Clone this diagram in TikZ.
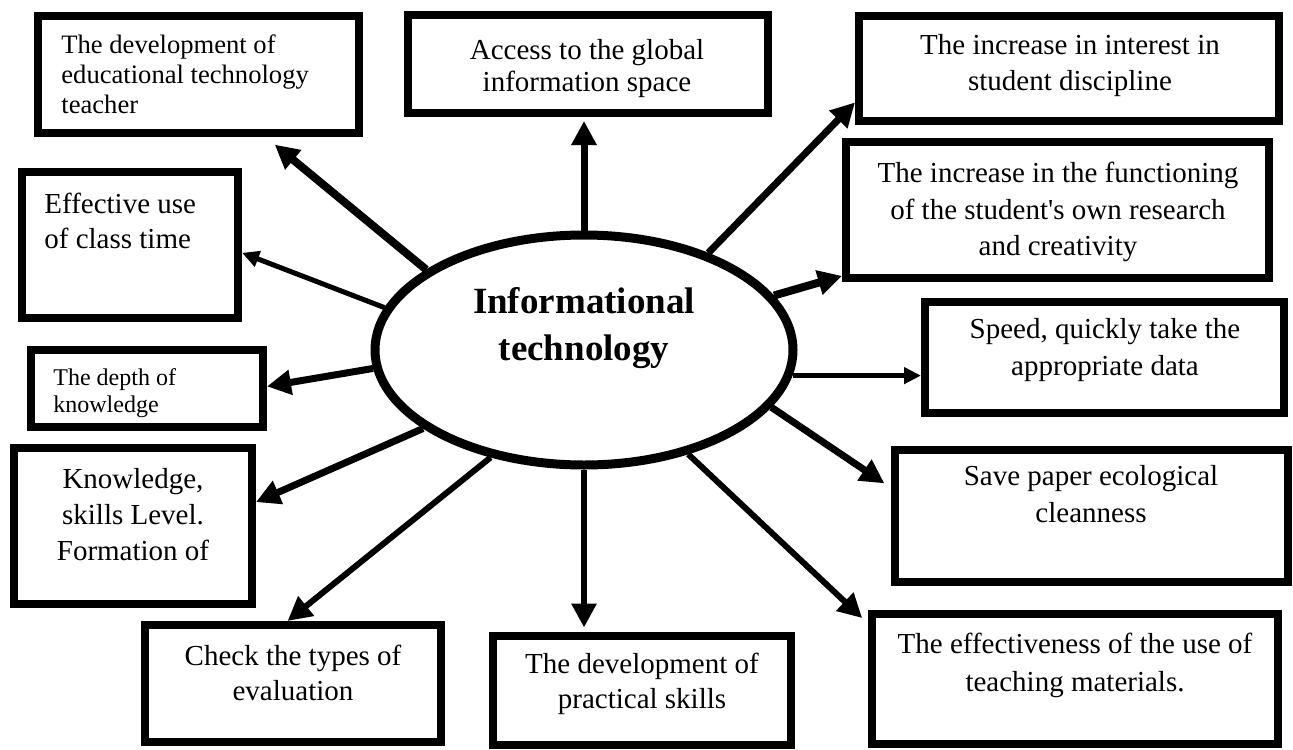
\documentclass[tikz,border=0pt]{standalone}
\usepackage{fontspec}
\setmainfont{Liberation Serif}
\usetikzlibrary{shapes.geometric, arrows.meta}
\tikzset{
  it box/.style={draw, rectangle, line width=4pt, inner sep=0},
  it ellipse/.style={draw, ellipse, line width=4.5pt, minimum width=209pt, minimum height=115pt, inner sep=0},
  box txt/.style={inner sep=0, align=center, anchor=north, font=\fontsize{14.5pt}{#1}\selectfont},
  box txt/.default=18pt,
  it title/.style={inner sep=0, align=center, anchor=north, font=\fontsize{18.5pt}{23.5pt}\selectfont\bfseries},
  it link/.style={line width=#1, -{Triangle[length=12pt, width=12pt]}},
  it link thin/.style={line width=2.5pt, -{Triangle[length=8.5pt, width=8pt]}}
}

\begin{document}
\begin{tikzpicture}[x=0.5pt, y=-0.5pt]
\useasboundingbox (0,0) rectangle (1293,749);

\node[it ellipse] (it) at (584,350) {};
\node[it title] (itt) at (584,287.5) {Informational\\technology};

\node[it box, minimum width=160.5pt, minimum height=58.5pt] (b1) at (198.5,74.5) {};
\node[box txt, anchor=north west, align=left, font=\fontsize{13.3pt}{15pt}\selectfont] (b1t) at (61,34.6) {The development of\\educational technology\\teacher};
\node[it box, minimum width=180pt, minimum height=49pt] (b2) at (588,64) {};
\node[box txt=16pt] (b2t) at (587,39) {Access to the global\\information space};
\node[it box, minimum width=210pt, minimum height=52.5pt] (b3) at (1069,68.5) {};
\node[box txt=17.75pt] (b3t) at (1070,34) {The increase in interest in\\student discipline};
\node[it box, minimum width=211.5pt, minimum height=68pt] (b4) at (1057.5,210) {};
\node[box txt=18.25pt] (b4t) at (1058,162) {The increase in the functioning\\of the student\textquotesingle s own research\\and creativity};
\node[it box, minimum width=108pt, minimum height=73pt] (b5) at (130,245) {};
\node[box txt=17.5pt, anchor=north west, align=left] (b5t) at (44,193) {Effective use\\of class time};
\node[it box, minimum width=179.5pt, minimum height=55.5pt] (b6) at (1104.5,357.5) {};
\node[box txt=18.5pt] (b6t) at (1105,318) {Speed, quickly take the\\appropriate data};
\node[it box, minimum width=116pt, minimum height=38.5pt] (b7) at (147,388.5) {};
\node[box txt, anchor=north west, align=left, font=\fontsize{12pt}{13.5pt}\selectfont] (b7t) at (53,368.4) {The depth of\\knowledge};
\node[it box, minimum width=119pt, minimum height=78pt] (b8) at (133,526) {};
\node[box txt] (b8t) at (133,468) {Knowledge,\\skills Level.\\Formation of};
\node[it box, minimum width=196.5pt, minimum height=66pt] (b9) at (1091.5,516) {};
\node[box txt=18.5pt] (b9t) at (1091,465) {Save paper ecological\\cleanness};
\node[it box, minimum width=148pt, minimum height=58.5pt] (b10) at (293,683.5) {};
\node[box txt=17.5pt] (b10t) at (293,645) {Check the types of\\evaluation};
\node[it box, minimum width=149pt, minimum height=54.5pt] (b11) at (642,690) {};
\node[box txt=17.5pt] (b11t) at (642,653) {The development of\\practical skills};
\node[it box, minimum width=203pt, minimum height=65pt] (b12) at (1075,679) {};
\node[box txt=19pt] (b12t) at (1075,633) {The effectiveness of the use of\\teaching materials.};

\draw[it link=4pt, shorten >=6pt] (it.153) -- (b1.-43);
\draw[it link=3.5pt, shorten >=2pt] (it.north) -- (it.north |- b2.south);
\draw[it link=3.5pt] (it.38) -- (b3.189);
\draw[it link=4pt] (it.16) -- (b4.197);
\draw[it link thin] (it.168) -- (b5.-4);
\draw[it link thin] (it.353) -- (it.353 -| b6.west);
\draw[it link=3.5pt] (it.185) -- (b7.1);
\draw[it link=3.5pt] (it.206) -- (b8.11);
\draw[it link=3.5pt, shorten >=4pt] (it.-17) -- (b9.172);
\draw[it link=3pt] (it.-131) -- (b10.95);
\draw[it link=3pt, shorten >=2pt] (it.south) -- (it.south |- b11.north);
\draw[it link=3pt, shorten >=4pt] (it.-45) -- (b12.165);

\end{tikzpicture}
\end{document}
